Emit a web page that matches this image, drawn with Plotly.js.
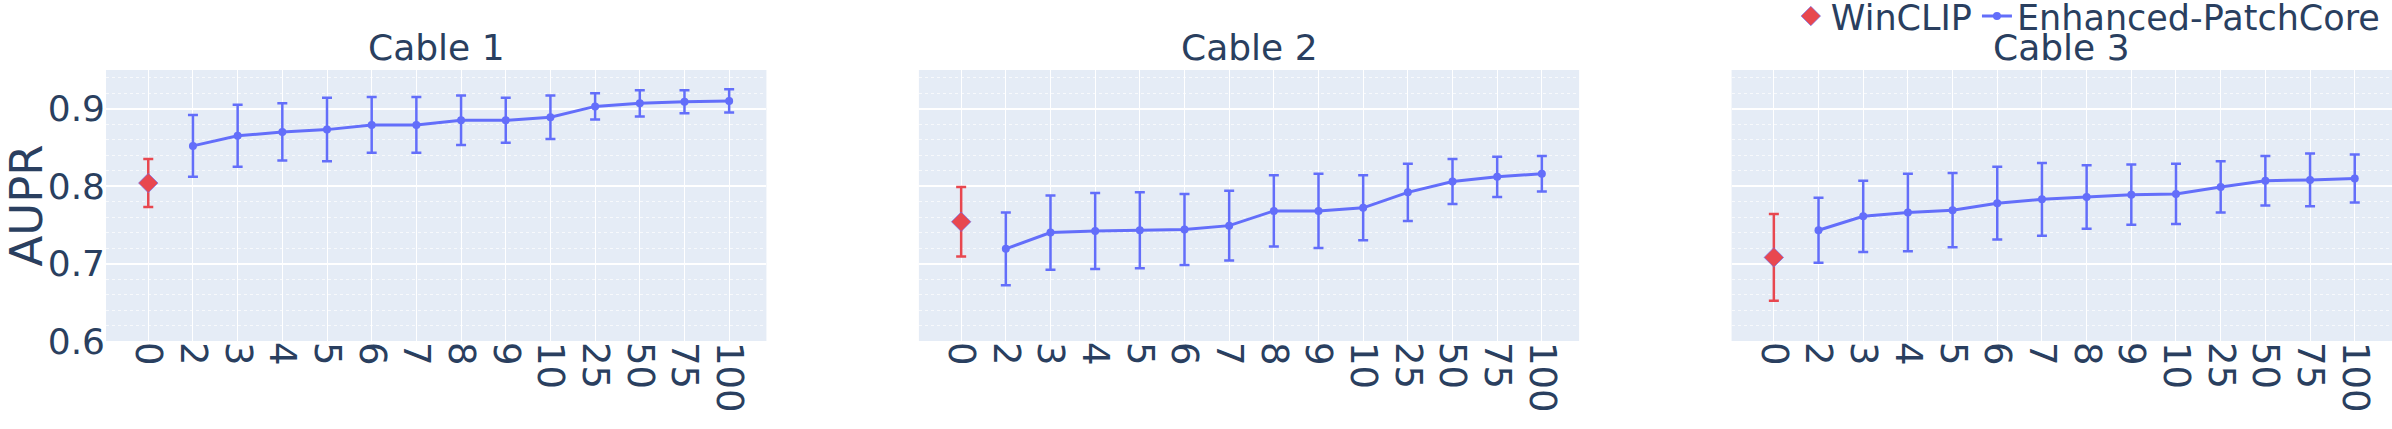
<!DOCTYPE html>
<html>
<head>
<meta charset="utf-8">
<script src="https://cdn.plot.ly/plotly-3.0.1.min.js"></script>
<style>
  html, body { margin: 0; padding: 0; background: #fff; }
  #chart { width: 2392px; height: 429px; }
</style>
</head>
<body>
<div id="chart"></div>
<script>
// shots on the x axis (category labels)
var shots = ['0', '2', '3', '4', '5', '6', '7', '8', '9', '10', '25', '50', '75', '100'];
var patchShots = shots.slice(1);
var subplotTitles = ['Cable 1', 'Cable 2', 'Cable 3'];

// WinCLIP (zero-shot only)
var winclipMean = [0.804, 0.754, 0.708];
var winclipErr = [0.031, 0.045, 0.056];

// Enhanced-PatchCore, one array per cable
var patchMean1 = [0.852, 0.865, 0.870, 0.873, 0.879, 0.879, 0.885, 0.885, 0.889, 0.903, 0.907, 0.909, 0.910];
var patchErr1 = [0.040, 0.040, 0.037, 0.041, 0.036, 0.036, 0.032, 0.029, 0.028, 0.017, 0.017, 0.015, 0.015];
var patchMean2 = [0.719, 0.740, 0.742, 0.743, 0.744, 0.749, 0.768, 0.768, 0.772, 0.792, 0.806, 0.812, 0.816];
var patchErr2 = [0.047, 0.048, 0.049, 0.049, 0.046, 0.045, 0.046, 0.048, 0.042, 0.037, 0.029, 0.026, 0.023];
var patchMean3 = [0.743, 0.761, 0.766, 0.769, 0.778, 0.783, 0.786, 0.789, 0.790, 0.799, 0.807, 0.808, 0.810];
var patchErr3 = [0.042, 0.046, 0.050, 0.048, 0.047, 0.047, 0.041, 0.039, 0.039, 0.033, 0.032, 0.034, 0.031];

var patchMeans = [patchMean1, patchMean2, patchMean3];
var patchErrs = [patchErr1, patchErr2, patchErr3];

var red = '#E8474F';
var blue = '#636EFA';
var ink = '#2a3f5f';

var data = [];
for (let i = 0; i < 3; i++) {
    var xa = i === 0 ? 'x' : 'x' + (i + 1);
    var ya = i === 0 ? 'y' : 'y' + (i + 1);
    data.push({
        x: [shots[0]],
        y: [winclipMean[i]],
        error_y: { type: 'data', array: [winclipErr[i]], visible: true, color: red, thickness: 2.5, width: 5 },
        type: 'scatter',
        mode: 'markers',
        name: 'WinCLIP',
        legendgroup: 'winclip',
        showlegend: i === 0,
        marker: { symbol: 'diamond', size: 15, color: red, line: { color: 'rgba(99,110,250,0.6)', width: 1 } },
        xaxis: xa,
        yaxis: ya
    });
    data.push({
        x: patchShots,
        y: patchMeans[i],
        error_y: { type: 'data', array: patchErrs[i], visible: true, color: blue, thickness: 2.5, width: 5 },
        type: 'scatter',
        mode: 'lines+markers',
        name: 'Enhanced-PatchCore',
        legendgroup: 'patch',
        showlegend: i === 0,
        line: { color: blue, width: 3 },
        marker: { size: 8, color: blue },
        xaxis: xa,
        yaxis: ya
    });
}

var domains = [[0, 0.2889], [0.3556, 0.6444], [0.7111, 1]];

function xAxis(i) {
    return {
        domain: domains[i],
        type: 'category',
        categoryorder: 'array',
        categoryarray: shots,
        range: [-0.946, 13.834],
        tickangle: 90,
        tickfont: { size: 37, color: ink },
        gridcolor: 'white',
        showline: false,
        zeroline: false,
        automargin: false,
        anchor: i === 0 ? 'y' : 'y' + (i + 1)
    };
}

function yAxis(i) {
    var ax = {
        domain: [0, 1],
        range: [0.6, 0.95],
        dtick: 0.1,
        tick0: 0,
        tickfont: { size: 36, color: ink },
        gridcolor: 'white',
        gridwidth: 2,
        zeroline: false,
        automargin: false,
        minor: { dtick: 0.02, showgrid: true, griddash: 'dot', gridcolor: 'rgba(255,255,255,0.7)', gridwidth: 1 },
        anchor: i === 0 ? 'x' : 'x' + (i + 1)
    };
    if (i === 0) {
        ax.title = { text: 'AUPR', font: { size: 45, color: ink } };
    } else {
        ax.matches = 'y';
        ax.showticklabels = false;
    }
    return ax;
}

var annotations = subplotTitles.map(function (t, i) {
    return {
        text: t,
        x: (domains[i][0] + domains[i][1]) / 2,
        y: 1,
        xref: 'paper',
        yref: 'paper',
        xanchor: 'center',
        yanchor: 'bottom',
        showarrow: false,
        font: { size: 36, color: ink }
    };
});

var layout = {
    width: 2392,
    height: 429,
    margin: { l: 106, r: 0, t: 70, b: 88 },
    paper_bgcolor: 'white',
    plot_bgcolor: '#E5ECF6',
    font: { family: '"DejaVu Sans", verdana, arial, sans-serif', color: ink },
    showlegend: true,
    legend: {
        orientation: 'h',
        xref: 'container',
        yref: 'container',
        x: 0.997,
        xanchor: 'right',
        y: 0.962,
        yanchor: 'middle',
        font: { size: 35, color: ink },
        bgcolor: 'rgba(0,0,0,0)'
    },
    annotations: annotations,
    xaxis: xAxis(0),
    xaxis2: xAxis(1),
    xaxis3: xAxis(2),
    yaxis: yAxis(0),
    yaxis2: yAxis(1),
    yaxis3: yAxis(2)
};

Plotly.newPlot('chart', data, layout, { staticPlot: true });
</script>
</body>
</html>
